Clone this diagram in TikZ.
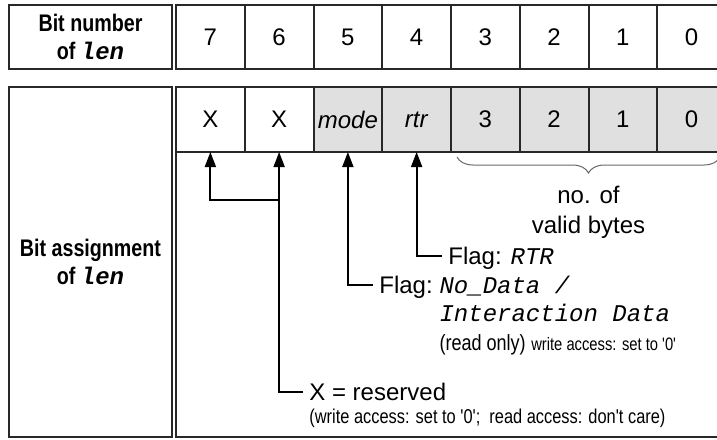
\documentclass[tikz,border=0pt]{standalone}
\usepackage{fontspec}
\setmainfont{Liberation Sans}
\newfontfamily\condfont{Liberation Sans}[FakeStretch=0.82]
\newfontfamily\codefont{Liberation Mono}
\usetikzlibrary{arrows.meta, positioning, calc, decorations.pathreplacing}
\definecolor{bitgray}{RGB}{224,224,224}
\definecolor{rule}{RGB}{40,40,40}
\newcommand{\lenvar}{{\codefont\bfseries\itshape len}}
\newcommand{\codeit}[1]{{\codefont\itshape #1}}

\begin{document}
\begin{tikzpicture}[
    x=0.5pt, y=-0.5pt,
    font=\fontsize{12}{14}\selectfont,
    cell/.style={rectangle, draw=rule, line width=1pt, minimum width=34.375pt, inner sep=0pt, outer sep=0pt},
    hdr/.style={rectangle, draw=rule, line width=1pt, minimum width=81.5pt, inner sep=0pt, outer sep=0pt, align=center, font=\condfont\bfseries\fontsize{12}{14}\selectfont},
    flag/.style={anchor=west, inner xsep=3pt, inner ysep=0pt, text height=8.6pt, text depth=0pt},
    note/.style={anchor=base west, inner sep=0pt},
    arr/.style={-{Triangle[length=7.5pt, width=5.5pt]}, line width=0.9pt},
    brace/.style={decorate, decoration={brace, mirror, amplitude=8pt}, draw=rule!70, line width=0.5pt},
]
\useasboundingbox (0,0) rectangle (717,439);
\clip (0,0) rectangle (717,439);

% bit numbers
\node[hdr, minimum height=32pt] (numlbl) at (90.5,37) {Bit number\\of \lenvar};
\foreach \b [count=\i from 0] in {7,...,0}
  \node[cell, minimum height=32pt] (n\b) at (210.375+68.75*\i,37) {\b};

% bit assignment
\node[hdr, minimum height=175pt] (asglbl) at (90.5,262) {Bit assignment\\of \lenvar};
\draw[rule, line width=1pt] (176,87) rectangle (726,437);
\foreach \b/\txt/\col [count=\i from 0] in {7/X/white, 6/X/white, 5/\textit{mode}/bitgray, 4/\textit{rtr}/bitgray, 3/3/bitgray, 2/2/bitgray, 1/1/bitgray, 0/0/bitgray}
  \node[cell, minimum height=32.5pt, fill=\col] (a\b) at (210.375+68.75*\i,119.5) {\txt};

% length field
\draw[brace] ($(a3.south west)+(6,5)$) -- ($(a0.south east)+(-6,5)$);
\node[align=center, font=\fontsize{12}{15}\selectfont] (bytes) at (588.5,212) {no. of\\valid bytes};

% flags
\node[flag] (rtrflag) at (442,256) {Flag: \codeit{RTR}};
\draw[arr] (rtrflag.west) -| (a4.south);

\node[flag] (ndflag) at (373,285) {Flag:};
\node[note] (nodata) at (ndflag.base east) {\codeit{No\_Data /}};
\node[note] (inter) at ($(nodata.base west)+(0,28)$) {\codeit{Interaction Data}};
\node[note] (rdonly) at ($(inter.base west)+(0,29)$) {\condfont{\fontsize{11}{13}\selectfont (read only)} {\fontsize{9}{11}\selectfont write access: set to '0'}};
\draw[arr] (ndflag.west) -| (a5.south);

% reserved bits
\node[flag] (reserved) at (303,392) {X = reserved};
\node[note, font=\condfont\fontsize{10}{12}\selectfont] (resnote) at ($(reserved.base west)+(6,23)$) {(write access: set to '0';\ \ read access: don't care)};
\coordinate (xjoin) at ($(a6.south)+(0,48)$);
\draw[arr] (reserved.west) -| (a6.south);
\draw[arr] (xjoin) -| (a7.south);
\end{tikzpicture}
\end{document}
